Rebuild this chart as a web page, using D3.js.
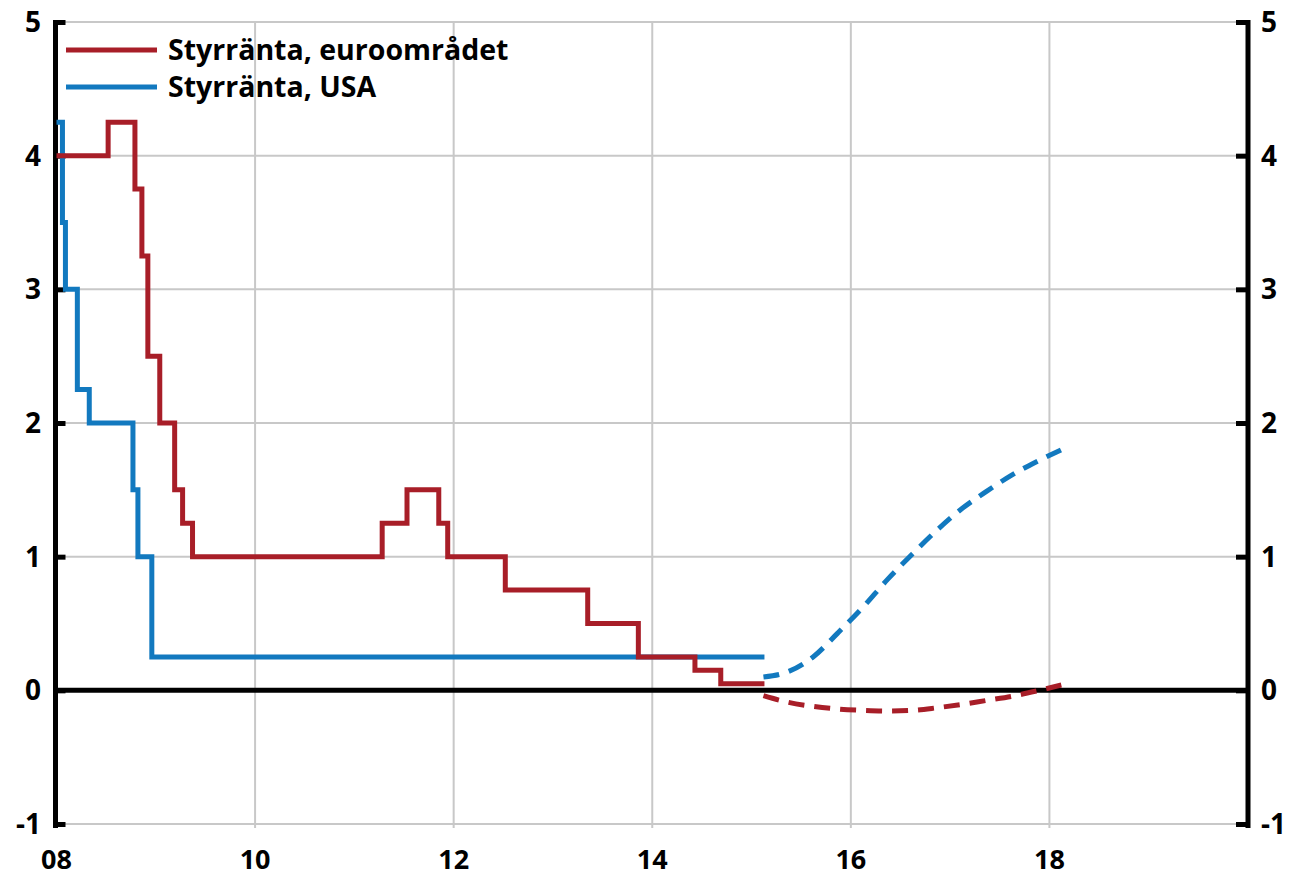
<!DOCTYPE html>
<html>
<head>
<meta charset="utf-8">
<script src="https://cdn.jsdelivr.net/npm/d3@7"></script>
<style>
  body { margin: 0; background: #fff; }
  text { font-family: "Open Sans", "Noto Sans", sans-serif; font-weight: bold; fill: #000; }
</style>
</head>
<body>
<script>
// policy rate, euro area (step changes, decimal year)
const euroSteps = [
  [2008.00, 4.00], [2008.52, 4.25], [2008.79, 3.75], [2008.86, 3.25], [2008.92, 2.50],
  [2009.04, 2.00], [2009.19, 1.50], [2009.27, 1.25], [2009.37, 1.00], [2011.28, 1.25],
  [2011.53, 1.50], [2011.85, 1.25], [2011.94, 1.00], [2012.52, 0.75], [2013.35, 0.50],
  [2013.86, 0.25], [2014.43, 0.15], [2014.69, 0.05], [2015.13, 0.05]
];
// policy rate, USA
const usaSteps = [
  [2008.00, 4.25], [2008.06, 3.50], [2008.09, 3.00], [2008.21, 2.25], [2008.33, 2.00],
  [2008.77, 1.50], [2008.82, 1.00], [2008.96, 0.25], [2015.13, 0.25]
];
// market expectations (quarterly)
const forecastDates = [2015.12, 2015.37, 2015.62, 2015.87, 2016.12, 2016.37, 2016.62,
  2016.87, 2017.12, 2017.37, 2017.62, 2017.87, 2018.12];
const euroForecast = [-0.04, -0.09, -0.12, -0.14, -0.15, -0.155, -0.15, -0.13, -0.105,
  -0.075, -0.045, -0.005, 0.04];
const usaForecast = [0.10, 0.14, 0.25, 0.43, 0.62, 0.83, 1.02, 1.20, 1.36, 1.49, 1.61,
  1.71, 1.80];

const xTicks = [2008, 2010, 2012, 2014, 2016, 2018];
const xTickLabels = ["08", "10", "12", "14", "16", "18"];
const yTicks = [-1, 0, 1, 2, 3, 4, 5];
const legendLabels = ["Styrränta, euroområdet", "Styrränta, USA"];

const red = "#a81e28", blue = "#1279bf";
const width = 1289, height = 878;

const svg = d3.select("body").append("svg")
    .attr("width", width)
    .attr("height", height);

const x = d3.scaleLinear().domain([2008, 2020]).range([56.5, 1248]);
const y = d3.scaleLinear().domain([-1, 5]).range([824, 22]);

// grid
svg.append("g")
  .selectAll("line")
  .data(yTicks.filter(d => d !== 0))
  .join("line")
    .attr("x1", x(2008)).attr("x2", x(2020))
    .attr("y1", d => y(d)).attr("y2", d => y(d))
    .attr("stroke", "#c8c8c8").attr("stroke-width", 2);

svg.append("g")
  .selectAll("line")
  .data(xTicks.slice(1))
  .join("line")
    .attr("x1", d => x(d)).attr("x2", d => x(d))
    .attr("y1", y(5)).attr("y2", y(-1) + 4)
    .attr("stroke", "#c8c8c8").attr("stroke-width", 2);

// zero line
svg.append("line")
    .attr("x1", x(2008)).attr("x2", x(2020))
    .attr("y1", y(0)).attr("y2", y(0))
    .attr("stroke", "#000").attr("stroke-width", 5);

// left and right axes
const left = svg.append("g").attr("transform", `translate(${x(2008) - 1},0)`)
    .call(d3.axisRight(y).tickValues(yTicks).tickSize(10).tickFormat(""));
const right = svg.append("g").attr("transform", `translate(${x(2020)},0)`)
    .call(d3.axisLeft(y).tickValues(yTicks).tickSize(12).tickFormat(""));
[left, right].forEach(g => {
  g.select(".domain").attr("stroke", "#000").attr("stroke-width", 5)
    .attr("d", `M0,${y(5) - 2}V${y(-1) + 4}`);
  g.selectAll(".tick line").attr("stroke", "#000").attr("stroke-width", 5);
});

svg.append("g").selectAll("text")
  .data(yTicks)
  .join("text")
    .attr("x", 41).attr("y", d => y(d))
    .attr("dy", "0.36em")
    .attr("text-anchor", "end")
    .style("font-size", "28px")
    .text(d => d);

svg.append("g").selectAll("text")
  .data(yTicks)
  .join("text")
    .attr("x", 1261).attr("y", d => y(d))
    .attr("dy", "0.36em")
    .style("font-size", "28px")
    .text(d => d);

svg.append("g").selectAll("text")
  .data(xTicks)
  .join("text")
    .attr("x", d => x(d)).attr("y", 869)
    .attr("text-anchor", "middle")
    .style("font-size", "27px")
    .text((d, i) => xTickLabels[i]);

// series
const step = d3.line().x(d => x(d[0])).y(d => y(d[1])).curve(d3.curveStepAfter);
const smooth = d3.line().x(d => x(d[0])).y(d => y(d[1])).curve(d3.curveMonotoneX);

svg.append("path").datum(usaSteps)
    .attr("d", step).attr("fill", "none")
    .attr("stroke", blue).attr("stroke-width", 5);
svg.append("path").datum(euroSteps)
    .attr("d", step).attr("fill", "none")
    .attr("stroke", red).attr("stroke-width", 5);

svg.append("path").datum(forecastDates.map((d, i) => [d, usaForecast[i]]))
    .attr("d", smooth).attr("fill", "none")
    .attr("stroke", blue).attr("stroke-width", 5)
    .attr("stroke-dasharray", "16,10");
svg.append("path").datum(forecastDates.map((d, i) => [d, euroForecast[i]]))
    .attr("d", smooth).attr("fill", "none")
    .attr("stroke", red).attr("stroke-width", 5)
    .attr("stroke-dasharray", "16,10");

// legend
const legend = svg.append("g").selectAll("g")
  .data(legendLabels)
  .join("g")
    .attr("transform", (d, i) => `translate(66,${50 + i * 37})`);
legend.append("line")
    .attr("x1", 0).attr("x2", 91)
    .attr("stroke", (d, i) => i === 0 ? red : blue)
    .attr("stroke-width", 5);
legend.append("text")
    .attr("x", 102).attr("dy", "0.36em")
    .style("font-size", "28.5px")
    .text(d => d);
</script>
</body>
</html>
